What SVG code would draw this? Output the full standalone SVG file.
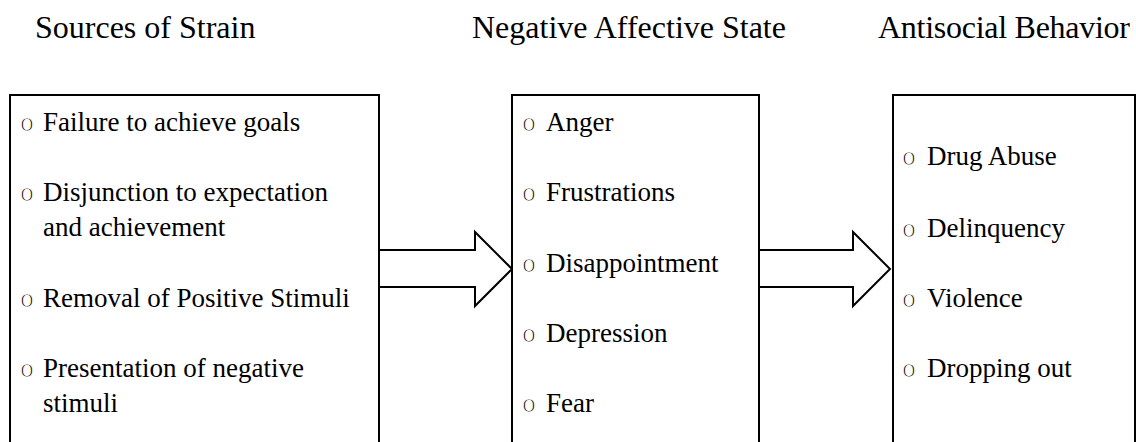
<svg xmlns="http://www.w3.org/2000/svg" width="1136" height="442" viewBox="0 0 1136 442">
  <style>
    .box { fill: #fff; stroke: #000; stroke-width: 2; }
    .arrow { fill: #fff; stroke: #000; stroke-width: 2; stroke-linejoin: miter; }
  </style>
  <rect width="1136" height="442" fill="#fff"/>

  <!-- column headings -->
  <g id="headings">
    <text x="35" y="38" font-family="Liberation Serif" font-size="32">Sources of Strain</text>
    <text x="472" y="38" font-family="Liberation Serif" font-size="32">Negative Affective State</text>
    <text x="878" y="38" font-family="Liberation Serif" font-size="32" textLength="252">Antisocial Behavior</text>
  </g>

  <!-- block arrows between the boxes -->
  <g id="connectors">
    <polygon class="arrow" points="379,250 475,250 475,232 512,269 475,306 475,287 379,287"/>
    <polygon class="arrow" points="759,250 853,250 853,232 890,269 853,306 853,287 759,287"/>
  </g>

  <!-- bullets are a mono "o", thinned with a white outline -->
  <g id="sources">
    <rect class="box" x="10" y="95" width="369" height="370"/>
    <text x="27" y="131" font-family="Liberation Mono" font-size="24" stroke="#fff" stroke-width="1" text-anchor="middle">o</text>
    <text x="27" y="201" font-family="Liberation Mono" font-size="24" stroke="#fff" stroke-width="1" text-anchor="middle">o</text>
    <text x="27" y="307" font-family="Liberation Mono" font-size="24" stroke="#fff" stroke-width="1" text-anchor="middle">o</text>
    <text x="27" y="377" font-family="Liberation Mono" font-size="24" stroke="#fff" stroke-width="1" text-anchor="middle">o</text>
    <text x="43" y="131" font-family="Liberation Serif" font-size="27">Failure to achieve goals</text>
    <text x="43" y="201" font-family="Liberation Serif" font-size="27">Disjunction to expectation</text>
    <text x="43" y="236" font-family="Liberation Serif" font-size="27">and achievement</text>
    <text x="43" y="307" font-family="Liberation Serif" font-size="27">Removal of Positive Stimuli</text>
    <text x="43" y="377" font-family="Liberation Serif" font-size="27">Presentation of negative</text>
    <text x="43" y="412" font-family="Liberation Serif" font-size="27">stimuli</text>
  </g>

  <g id="affective">
    <rect class="box" x="512" y="95" width="247" height="370"/>
    <text x="529" y="131" font-family="Liberation Mono" font-size="24" stroke="#fff" stroke-width="1" text-anchor="middle">o</text>
    <text x="529" y="201" font-family="Liberation Mono" font-size="24" stroke="#fff" stroke-width="1" text-anchor="middle">o</text>
    <text x="529" y="272" font-family="Liberation Mono" font-size="24" stroke="#fff" stroke-width="1" text-anchor="middle">o</text>
    <text x="529" y="342" font-family="Liberation Mono" font-size="24" stroke="#fff" stroke-width="1" text-anchor="middle">o</text>
    <text x="529" y="412" font-family="Liberation Mono" font-size="24" stroke="#fff" stroke-width="1" text-anchor="middle">o</text>
    <text x="546" y="131" font-family="Liberation Serif" font-size="27">Anger</text>
    <text x="546" y="201" font-family="Liberation Serif" font-size="27">Frustrations</text>
    <text x="546" y="272" font-family="Liberation Serif" font-size="27">Disappointment</text>
    <text x="546" y="342" font-family="Liberation Serif" font-size="27">Depression</text>
    <text x="546" y="412" font-family="Liberation Serif" font-size="27">Fear</text>
  </g>

  <g id="behavior">
    <rect class="box" x="893" y="95" width="242" height="370"/>
    <text x="909" y="165" font-family="Liberation Mono" font-size="24" stroke="#fff" stroke-width="1" text-anchor="middle">o</text>
    <text x="909" y="237" font-family="Liberation Mono" font-size="24" stroke="#fff" stroke-width="1" text-anchor="middle">o</text>
    <text x="909" y="307" font-family="Liberation Mono" font-size="24" stroke="#fff" stroke-width="1" text-anchor="middle">o</text>
    <text x="909" y="377" font-family="Liberation Mono" font-size="24" stroke="#fff" stroke-width="1" text-anchor="middle">o</text>
    <text x="927" y="165" font-family="Liberation Serif" font-size="27">Drug Abuse</text>
    <text x="927" y="237" font-family="Liberation Serif" font-size="27">Delinquency</text>
    <text x="927" y="307" font-family="Liberation Serif" font-size="27">Violence</text>
    <text x="927" y="377" font-family="Liberation Serif" font-size="27">Dropping out</text>
  </g>
</svg>
